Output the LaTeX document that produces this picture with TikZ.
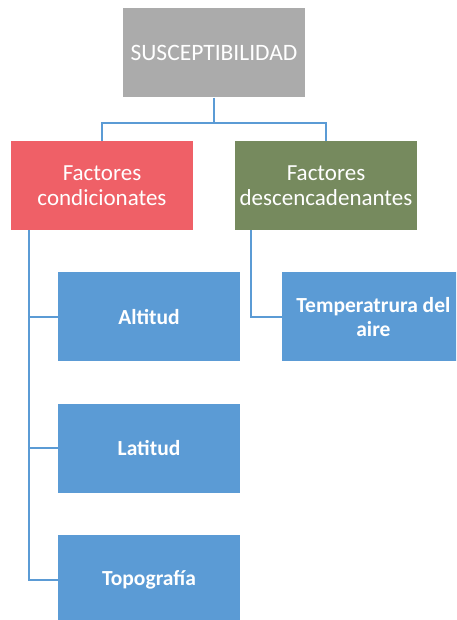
\documentclass[tikz,border=0pt]{standalone}
\usepackage{fontspec}
\setmainfont{Carlito}
\usetikzlibrary{positioning}
\definecolor{boxgray}{HTML}{ABABAB}
\definecolor{boxred}{HTML}{EF6067}
\definecolor{boxgreen}{HTML}{768A5E}
\definecolor{boxblue}{HTML}{5B9BD5}
\begin{document}
\begin{tikzpicture}[node distance=42pt, auto, x=1pt, y=1pt]
	% Define styles
	\tikzstyle{mainbox} = [rectangle, text=white, align=center, minimum width=182pt, minimum height=89pt, inner sep=2pt]
	\tikzstyle{topbox} = [mainbox, fill=boxgray, font=\fontsize{23.5}{26}\selectfont]
	\tikzstyle{factorbox} = [mainbox, font=\fontsize{23}{25}\selectfont]
	\tikzstyle{itembox} = [mainbox, fill=boxblue, font=\bfseries\fontsize{21.5}{24}\selectfont]
	\tikzstyle{link} = [draw=boxblue, line width=2pt]
	\useasboundingbox (0,0) rectangle (456,-620);
	\clip (0,0) rectangle (456,-620);
	
	% Nodes
	\node[topbox] (suscep) at (214,-53) {SUSCEPTIBILIDAD};
	\node[factorbox, fill=boxred, below=43pt of suscep, xshift=-112pt] (cond) {Factores\\condicionates};
	\node[factorbox, fill=boxgreen, below=43pt of suscep, xshift=112pt] (desc) {Factores\\descencadenantes};
	\node[itembox, below=42pt of cond, xshift=47pt] (altitud) {Altitud};
	\node[itembox, below=42pt of altitud] (latitud) {Latitud};
	\node[itembox, below=42pt of latitud] (topo) {Topografía};
	\node[itembox, right=42pt of altitud] (temp) {Temperatrura del\\aire};
	
	% Connectors
	\draw[link] (suscep.south) -- ++(0,-25) coordinate (hub);
	\draw[link] (hub) -| (cond.north);
	\draw[link] (hub) -| (desc.north);
	\draw[link] ([xshift=18pt]cond.south west) |- (altitud.west);
	\draw[link] ([xshift=18pt]cond.south west) |- (latitud.west);
	\draw[link] ([xshift=18pt]cond.south west) |- (topo.west);
	\draw[link] ([xshift=16pt]desc.south west) |- (temp.west);
\end{tikzpicture}
\end{document}
